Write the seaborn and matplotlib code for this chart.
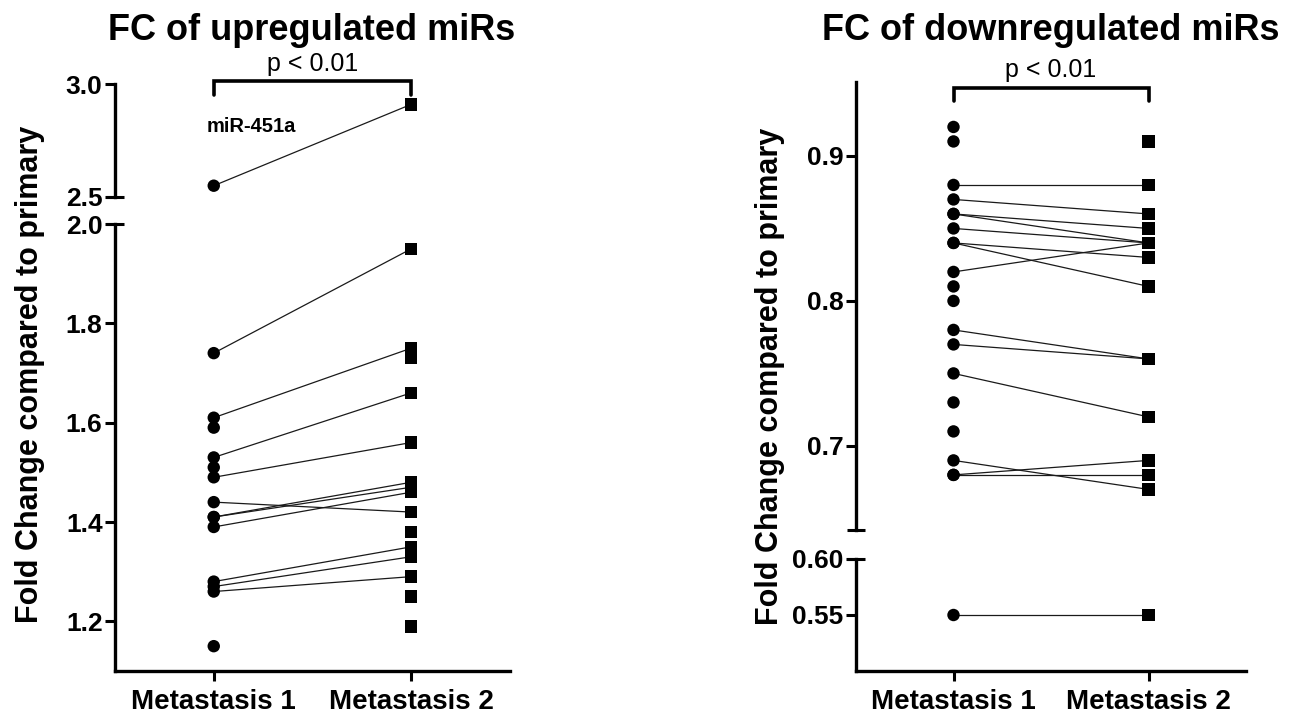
import numpy as np
import pandas as pd
import matplotlib
matplotlib.use("Agg")
import matplotlib.pyplot as plt
import matplotlib.transforms as mtransforms
import seaborn as sns

# Werte
groups = ["Metastasis 1", "Metastasis 2"]

# hochregulierte miRs: gepaarte Werte (mit Linie) + einzelne Punkte
up_pair_m1 = [2.55, 1.74, 1.61, 1.53, 1.49, 1.44, 1.41, 1.41, 1.39, 1.28, 1.27, 1.26]
up_pair_m2 = [2.91, 1.95, 1.75, 1.66, 1.56, 1.42, 1.48, 1.47, 1.46, 1.35, 1.33, 1.29]
up_only_m1 = [1.59, 1.51, 1.15]
up_only_m2 = [1.73, 1.38, 1.25, 1.19]

# herunterregulierte miRs
dn_pair_m1 = [0.88, 0.87, 0.86, 0.86, 0.85, 0.84, 0.84, 0.82, 0.78, 0.77, 0.75, 0.69, 0.68, 0.68, 0.55]
dn_pair_m2 = [0.88, 0.86, 0.85, 0.84, 0.84, 0.83, 0.81, 0.84, 0.76, 0.76, 0.72, 0.67, 0.69, 0.68, 0.55]
dn_only_m1 = [0.92, 0.91, 0.81, 0.80, 0.73, 0.71]
dn_only_m2 = [0.91]

up_ticks_top = [2.5, 3.0]
up_ticks_bot = [1.2, 1.4, 1.6, 1.8, 2.0]
dn_ticks_top = [0.7, 0.8, 0.9]
dn_ticks_bot = [0.55, 0.60]

sns.set_style("ticks")
plt.rcParams['font.family'] = ['Liberation Sans', 'DejaVu Sans']
for k in ["text.color", "axes.edgecolor", "axes.labelcolor", "xtick.color", "ytick.color"]:
    plt.rcParams[k] = "black"

W, H = 1291, 719
fig = plt.figure(figsize=(W / 100, H / 100), dpi=100)


def px_axes(x0, x1, ytop, ybot):
    return fig.add_axes([x0 / W, 1 - ybot / H, (x1 - x0) / W, (ybot - ytop) / H])


def make_frames(p1, p2, o1, o2):
    pairs = pd.DataFrame({
        "pair": list(range(len(p1))) * 2,
        "pos": [0] * len(p1) + [1] * len(p2),
        "fc": p1 + p2,
    })
    pts = pd.DataFrame({
        "pos": [0] * (len(p1) + len(o1)) + [1] * (len(p2) + len(o2)),
        "fc": p1 + o1 + p2 + o2,
    })
    pts["group"] = [groups[p] for p in pts["pos"]]
    return pairs, pts


def draw(ax, pairs, pts):
    sns.lineplot(data=pairs, x="pos", y="fc", units="pair", estimator=None,
                 color="#1a1a1a", lw=0.9, ax=ax, legend=False)
    sns.scatterplot(data=pts, x="pos", y="fc", hue="group", style="group",
                    markers={"Metastasis 1": "o", "Metastasis 2": "s"},
                    palette={"Metastasis 1": "black", "Metastasis 2": "black"},
                    s=80, linewidth=0, ax=ax, legend=False, zorder=3)
    ax.set_xlim(-0.5, 1.5)
    ax.set_xlabel("")
    ax.set_ylabel("")
    ax.tick_params(axis="y", which="major", direction="out", length=7, width=2.2,
                   labelsize=19, pad=2)
    ax.tick_params(axis="y", which="minor", direction="inout", length=13, width=2.2)
    ax.yaxis.remove_overlapping_locs = False
    for s in ["top", "right"]:
        ax.spines[s].set_visible(False)
    ax.spines["left"].set_linewidth(2.4)
    ax.spines["bottom"].set_linewidth(2.4)


def setup_top(ax):
    ax.spines["bottom"].set_visible(False)
    ax.set_xticks([])


def setup_bottom(ax):
    ax.set_xticks([0, 1])
    ax.set_xticklabels(groups, fontsize=20, fontweight="bold")
    ax.tick_params(axis="x", direction="out", length=7, width=2.2, pad=6)


def bracket(ax, y_line, y_tip, y_text):
    tr = mtransforms.blended_transform_factory(ax.transData, fig.transFigure)
    ax.plot([0, 0, 1, 1], [1 - y_tip / H, 1 - y_line / H, 1 - y_line / H, 1 - y_tip / H],
            color="black", lw=2.6, transform=tr, clip_on=False, solid_joinstyle="miter")
    ax.text(0.5, 1 - y_text / H, "p < 0.01", transform=tr, ha="center", va="center",
            fontsize=18)


# ---------- links: hochreguliert ----------
up_pairs, up_pts = make_frames(up_pair_m1, up_pair_m2, up_only_m1, up_only_m2)
axL_top = px_axes(115, 510, 84, 197)
axL_bot = px_axes(115, 510, 224, 671)
for ax in (axL_top, axL_bot):
    draw(ax, up_pairs, up_pts)
axL_top.set_ylim(2.5, 3.0)
axL_top.set_yticks(up_ticks_top)
axL_top.set_yticks([2.5], minor=True)
axL_top.set_yticklabels([f"{v:.1f}" for v in up_ticks_top], fontweight="bold")
setup_top(axL_top)
axL_bot.set_ylim(1.1, 2.0)
axL_bot.set_yticks(up_ticks_bot)
axL_bot.set_yticks([2.0], minor=True)
axL_bot.set_yticklabels([f"{v:.1f}" for v in up_ticks_bot], fontweight="bold")
setup_bottom(axL_bot)
bracket(axL_top, 81, 95, 64)
axL_top.text(0.19, 2.81, "miR-451a", fontsize=14.5, fontweight="bold", ha="center", va="center")

# ---------- rechts: herunterreguliert ----------
dn_pairs, dn_pts = make_frames(dn_pair_m1, dn_pair_m2, dn_only_m1, dn_only_m2)
axR_top = px_axes(856, 1246, 82, 530)
axR_bot = px_axes(856, 1246, 559, 671)
for ax in (axR_top, axR_bot):
    draw(ax, dn_pairs, dn_pts)
axR_top.set_ylim(0.642, 0.951)
axR_top.set_yticks(dn_ticks_top)
axR_top.set_yticks([0.642], minor=True)
axR_top.set_yticklabels([f"{v:.1f}" for v in dn_ticks_top], fontweight="bold")
setup_top(axR_top)
axR_bot.set_ylim(0.50, 0.60)
axR_bot.set_yticks(dn_ticks_bot)
axR_bot.set_yticks([0.60], minor=True)
axR_bot.set_yticklabels([f"{v:.2f}" for v in dn_ticks_bot], fontweight="bold")
setup_bottom(axR_bot)
bracket(axR_top, 88, 101, 70)

# Titel und Achsenbeschriftungen
fig.text(312 / W, 1 - 30 / H, "FC of upregulated miRs", ha="center", va="center",
         fontsize=26, fontweight="bold")
fig.text(1051 / W, 1 - 30 / H, "FC of downregulated miRs", ha="center", va="center",
         fontsize=26, fontweight="bold")
fig.text(30 / W, 1 - 374 / H, "Fold Change compared to primary", rotation=90,
         ha="center", va="center", fontsize=22, fontweight="bold")
fig.text(770 / W, 1 - 376 / H, "Fold Change compared to primary", rotation=90,
         ha="center", va="center", fontsize=22, fontweight="bold")

fig.savefig("out.png", dpi=100)
